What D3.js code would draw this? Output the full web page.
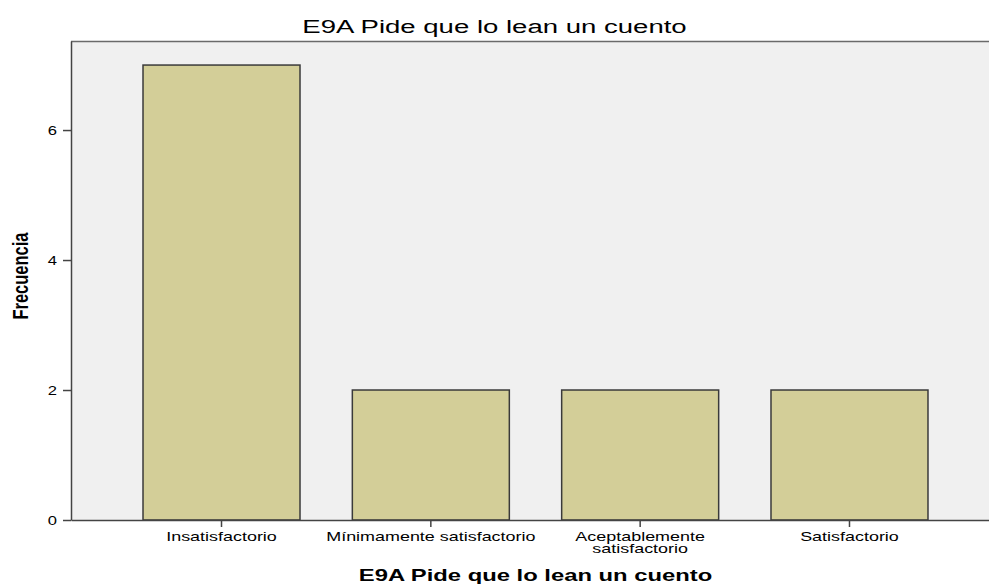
<!DOCTYPE html>
<html>
<head>
<meta charset="utf-8">
<script src="https://cdn.jsdelivr.net/npm/d3@7"></script>
<style>
  body { margin: 0; background: #fff; }
  text { font-family: "Liberation Sans", Arial, sans-serif; fill: #000; }
</style>
</head>
<body>
<div id="chart"></div>
<script>
const categories = ['Insatisfactorio', 'Mínimamente satisfactorio', 'Aceptablemente satisfactorio', 'Satisfactorio'];
const categoryLabelLines = [['Insatisfactorio'], ['Mínimamente satisfactorio'], ['Aceptablemente', 'satisfactorio'], ['Satisfactorio']];
const frequencies = [7, 2, 2, 2];
const yTicks = [0, 2, 4, 6];
const chartTitle = 'E9A Pide que lo lean un cuento';
const xTitle = 'E9A Pide que lo lean un cuento';
const yTitle = 'Frecuencia';

const W = 989, H = 585;
const SX = 1.38; // the source picture is stretched sideways
const plot = { left: 71, top: 41, right: 1000, bottom: 520 };

const svg = d3.select('#chart').append('svg')
    .attr('width', W)
    .attr('height', H);

const x = d3.scaleBand()
    .domain(categories)
    .range([plot.left, plot.right])
    .paddingInner(0.25)
    .paddingOuter(0.344);

const y = d3.scaleLinear()
    .domain([0, 7.37])
    .range([plot.bottom, plot.top]);

// plot background
svg.append('rect')
    .attr('x', plot.left)
    .attr('y', plot.top)
    .attr('width', plot.right - plot.left)
    .attr('height', plot.bottom - plot.top)
    .attr('fill', '#f0f0f0');

svg.append('line')
    .attr('x1', plot.left).attr('x2', plot.right)
    .attr('y1', plot.top + 0.5).attr('y2', plot.top + 0.5)
    .attr('stroke', '#6a6a6a').attr('stroke-width', 1.5);

// bars
svg.selectAll('.bar')
    .data(frequencies)
    .enter()
    .append('rect')
    .attr('class', 'bar')
    .attr('x', (d, i) => x(categories[i]))
    .attr('y', d => y(d))
    .attr('width', x.bandwidth())
    .attr('height', d => y(0) - y(d))
    .attr('fill', '#d3ce98')
    .attr('stroke', '#3a3a3a')
    .attr('stroke-width', 1.5);

// y axis
const yAxis = svg.append('g')
    .attr('transform', `translate(${plot.left},0)`)
    .call(d3.axisLeft(y).tickValues(yTicks).tickSize(8).tickSizeOuter(0).tickFormat(d3.format('d')));
yAxis.select('.domain').attr('stroke', '#444').attr('stroke-width', 1.5);
yAxis.selectAll('.tick line').attr('stroke', '#444').attr('stroke-width', 1.5);
yAxis.selectAll('.tick text')
    .attr('x', -14 / SX)
    .attr('dy', '0.36em')
    .attr('transform', `scale(${SX},1)`)
    .style('font-size', '12px')
    .style('font-family', '"Liberation Sans", Arial, sans-serif')
    .attr('fill', '#000');

// x axis
const xAxis = svg.append('g')
    .attr('transform', `translate(0,${plot.bottom})`)
    .call(d3.axisBottom(x).tickSize(7).tickSizeOuter(0).tickFormat(''));
xAxis.select('.domain').attr('stroke', '#444').attr('stroke-width', 1.5);
xAxis.selectAll('.tick line').attr('stroke', '#444').attr('stroke-width', 1.5);

categories.forEach((c, i) => {
    const t = svg.append('text')
        .attr('transform', `translate(${x(c) + x.bandwidth() / 2},541) scale(${SX},1)`)
        .attr('text-anchor', 'middle')
        .style('font-size', '13px');
    categoryLabelLines[i].forEach((line, j) => {
        t.append('tspan')
            .attr('x', 0)
            .attr('y', j * 12)
            .text(line);
    });
});

// titles
svg.append('text')
    .attr('transform', `translate(${W / 2},33) scale(1.45,1)`)
    .attr('text-anchor', 'middle')
    .style('font-size', '19px')
    .text(chartTitle);

svg.append('text')
    .attr('transform', `translate(${(plot.left + plot.right) / 2},581) scale(1.4,1)`)
    .attr('text-anchor', 'middle')
    .style('font-size', '17px')
    .style('font-weight', 'bold')
    .text(xTitle);

svg.append('text')
    .attr('transform', `translate(28,276) rotate(-90) scale(1,1.35)`)
    .attr('text-anchor', 'middle')
    .style('font-size', '16.5px')
    .style('font-weight', 'bold')
    .text(yTitle);
</script>
</body>
</html>
